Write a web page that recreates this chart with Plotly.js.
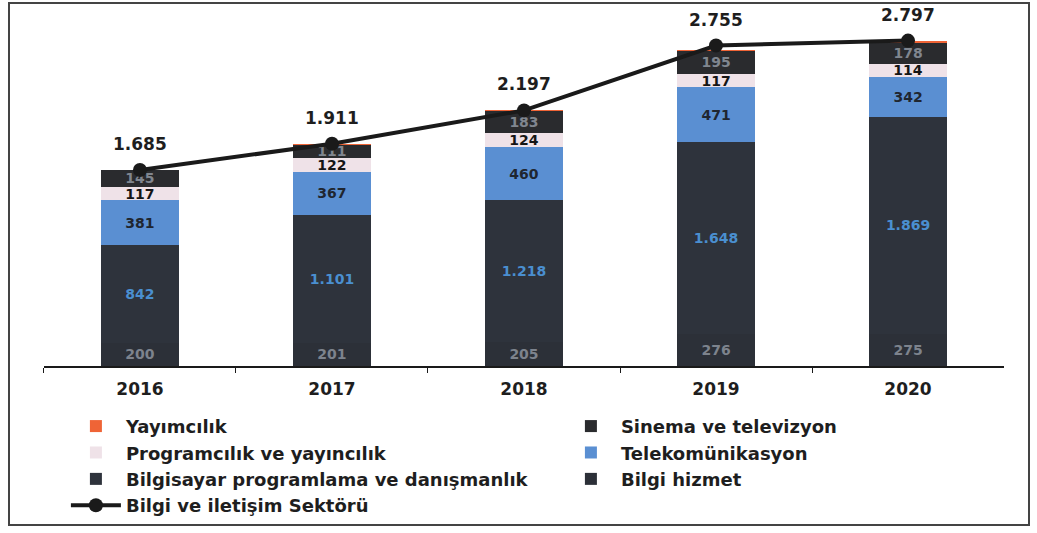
<!DOCTYPE html>
<html>
<head>
<meta charset="utf-8">
<script src="https://cdn.plot.ly/plotly-3.0.1.min.js"></script>
<style>
  body { margin: 0; background: #fff; }
  #frame { position: absolute; left: 8px; top: 2px; width: 1018px; height: 520px; border: 2px solid #444; }
  #graph { width: 1018px; height: 520px; }
</style>
</head>
<body>
<div id="frame"><div id="graph"></div></div>
<script>
const years = ['2016', '2017', '2018', '2019', '2020'];

// segment values, bottom of the stack first
const bilgiHizmet = [200, 201, 205, 276, 275];
const bilgisayar = [842, 1101, 1218, 1648, 1869];
const telekom = [381, 367, 460, 471, 342];
const programcilik = [117, 122, 124, 117, 114];
const sinema = [145, 111, 183, 195, 178];
const yayimcilik = [0, 3, 7, 8, 19];
const toplam = [1685, 1911, 2197, 2755, 2797];

const FONT = 'DejaVu Sans';

function barTrace(name, vals, color, textColor, rank) {
    return {
        type: 'bar',
        name: name,
        x: years,
        y: vals,
        marker: { color: color },
        texttemplate: '%{y:,}',
        textposition: 'inside',
        insidetextanchor: 'middle',
        textangle: 0,
        textfont: { family: FONT, size: 14, color: textColor, weight: 'bold' },
        constraintext: 'none',
        cliponaxis: false,
        legendrank: rank,
        hoverinfo: 'skip'
    };
}

const traces = [
    barTrace('Bilgi hizmet', bilgiHizmet, '#2c3038', '#7d838d', 6),
    barTrace('Bilgisayar programlama ve danışmanlık', bilgisayar, '#2e333c', '#4a8fd0', 5),
    barTrace('Telekomünikasyon', telekom, '#5a8fd2', '#1f2630', 4),
    barTrace('Programcılık ve yayıncılık', programcilik, '#efe2e8', '#151515', 3),
    barTrace('Sinema ve televizyon', sinema, '#2a2b2e', '#80868f', 2),
    barTrace('Yayımcılık', yayimcilik, '#ef6436', 'rgba(0,0,0,0)', 1),
    {
        type: 'scatter',
        mode: 'lines+markers',
        name: 'Bilgi ve iletişim Sektörü',
        x: years,
        y: toplam,
        line: { color: '#1a1a1a', width: 4 },
        marker: { color: '#1a1a1a', size: 14 },
        cliponaxis: false,
        legendrank: 7
    }
];

// total labels above the line markers (x = category index)
const totalLabels = toplam.map((v, i) => ({
    x: i,
    y: v,
    text: v.toLocaleString('de-DE'),
    showarrow: false,
    yshift: 26,
    font: { family: FONT, size: 17, weight: 'bold', color: '#1e1e1e' }
}));

const layout = {
    width: 1018,
    height: 520,
    margin: { l: 10, r: 10, t: 13, b: 158, autoexpand: false },
    barmode: 'stack',
    bargap: 0.59,
    separators: ',.',
    paper_bgcolor: '#fff',
    plot_bgcolor: '#fff',
    font: { family: FONT, color: '#1e1e1e' },
    annotations: totalLabels,
    xaxis: {
        type: 'category',
        range: [-0.5, 4.5],
        domain: [0.024, 0.986],
        showline: true,
        linecolor: '#1a1a1a',
        linewidth: 2,
        ticks: 'outside',
        tickson: 'boundaries',
        ticklen: 5,
        tickcolor: '#1a1a1a',
        ticklabelstandoff: 7,
        tickfont: { family: FONT, size: 17, weight: 'bold', color: '#1e1e1e' },
        fixedrange: true
    },
    yaxis: {
        range: [0, 3000],
        visible: false,
        showgrid: false,
        zeroline: false
    },
    showlegend: true,
    legend: {
        orientation: 'h',
        x: 0.046,
        xanchor: 'left',
        y: -0.12,
        yanchor: 'top',
        traceorder: 'normal',
        entrywidth: 430,
        entrywidthmode: 'pixels',
        font: { family: FONT, size: 18, weight: 'bold', color: '#1e1e1e' },
        itemwidth: 50
    }
};

Plotly.newPlot('graph', traces, layout, { displayModeBar: false, staticPlot: true });
</script>
</body>
</html>
